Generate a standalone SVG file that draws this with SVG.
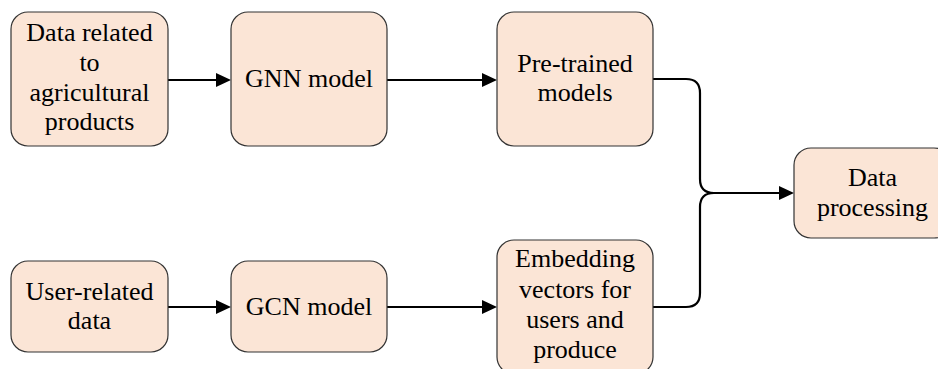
<svg xmlns="http://www.w3.org/2000/svg" width="938" height="369" viewBox="0 0 938 369">
  <style>
    .box { fill: #FBE5D6; stroke: #333333; stroke-width: 1.2; }
    .lbl { font-family: "Liberation Serif", "Times New Roman", serif; font-size: 26px; fill: #000000; text-anchor: middle; }
    .wire { fill: none; stroke: #000000; stroke-width: 2.2; }
  </style>
  <defs>
    <marker id="arrow" viewBox="0 0 15 14" refX="0" refY="7" markerWidth="15" markerHeight="14" markerUnits="userSpaceOnUse" orient="auto">
      <path d="M0,0 L15,7 L0,14 Z" fill="#000000"/>
    </marker>
  </defs>

  <g id="connectors">
    <path class="wire" d="M168,80 H216" marker-end="url(#arrow)"/>
    <path class="wire" d="M387,80 H482" marker-end="url(#arrow)"/>
    <path class="wire" d="M168,307 H216" marker-end="url(#arrow)"/>
    <path class="wire" d="M387,307 H482" marker-end="url(#arrow)"/>
    <path class="wire" d="M653,79 H686 Q700,79 700,93 V179 Q700,193 714,193 H779" marker-end="url(#arrow)"/>
    <path class="wire" d="M653,307 H686 Q700,307 700,293 V207 Q700,193 714,193"/>
  </g>

  <g id="agri-data">
    <rect class="box" x="11" y="12" width="157" height="134" rx="17"/>
    <text class="lbl" x="89.5"><tspan x="89.5" y="41">Data related</tspan><tspan x="89.5" y="71">to</tspan><tspan x="89.5" y="101">agricultural</tspan><tspan x="89.5" y="130">products</tspan></text>
  </g>

  <g id="gnn-model">
    <rect class="box" x="231" y="12" width="156" height="134" rx="17"/>
    <text class="lbl" x="309" y="87">GNN model</text>
  </g>

  <g id="pretrained">
    <rect class="box" x="497" y="12" width="156" height="134" rx="17"/>
    <text class="lbl"><tspan x="575" y="72">Pre-trained</tspan><tspan x="575" y="101">models</tspan></text>
  </g>

  <g id="user-data">
    <rect class="box" x="11" y="261" width="157" height="91" rx="17"/>
    <text class="lbl"><tspan x="89.5" y="300">User-related</tspan><tspan x="89.5" y="329">data</tspan></text>
  </g>

  <g id="gcn-model">
    <rect class="box" x="231" y="261" width="156" height="91" rx="17"/>
    <text class="lbl" x="309" y="315">GCN model</text>
  </g>

  <g id="embeddings">
    <rect class="box" x="497" y="240" width="156" height="134" rx="17"/>
    <text class="lbl"><tspan x="575" y="267">Embedding</tspan><tspan x="575" y="298">vectors for</tspan><tspan x="575" y="328">users and</tspan><tspan x="575" y="358">produce</tspan></text>
  </g>

  <g id="data-processing">
    <rect class="box" x="794" y="148" width="157" height="90" rx="17"/>
    <text class="lbl"><tspan x="872.5" y="186">Data</tspan><tspan x="872.5" y="216">processing</tspan></text>
  </g>
</svg>
